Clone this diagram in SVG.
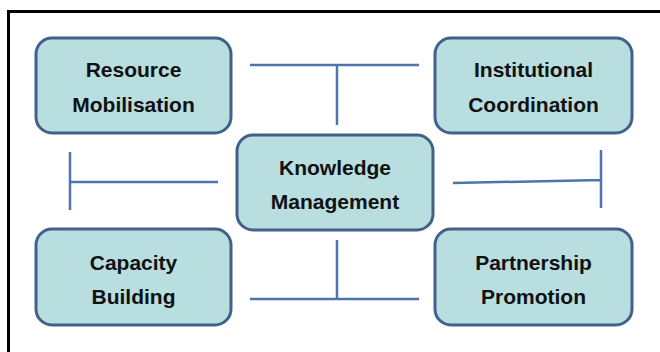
<svg xmlns="http://www.w3.org/2000/svg" width="660" height="352" viewBox="0 0 660 352">
<style>
.box{fill:#b8dedf;stroke:#41608a;stroke-width:3}
.lbl{font-family:"Liberation Sans",Arial,sans-serif;font-weight:bold;font-size:21px;fill:#111111;text-anchor:middle}
.con{stroke:#4e74ad;stroke-width:2.5;fill:none}
</style>
<rect x="0" y="0" width="660" height="352" fill="#ffffff"/>
<path d="M8.5 352 V11.5 H660" fill="none" stroke="#000" stroke-width="3"/>
<g id="connectors">
<path class="con" d="M250 65 H419 M337 65 V125"/>
<path class="con" d="M70 152 V210 M70 182 H218"/>
<path class="con" d="M453 183 L601 180 M601 150 V208"/>
<path class="con" d="M250 299 H419 M337 240 V299"/>
</g>
<g id="resource-mobilisation">
<rect class="box" x="36" y="38" width="195" height="95" rx="16"/>
<text class="lbl" x="133.5" y="77">Resource</text>
<text class="lbl" x="133.5" y="112">Mobilisation</text>
</g>
<g id="institutional-coordination">
<rect class="box" x="435" y="38" width="197" height="95" rx="16"/>
<text class="lbl" x="533.5" y="77">Institutional</text>
<text class="lbl" x="533.5" y="112">Coordination</text>
</g>
<g id="knowledge-management">
<rect class="box" x="237" y="135" width="196" height="95" rx="16"/>
<text class="lbl" x="335" y="175">Knowledge</text>
<text class="lbl" x="335" y="209">Management</text>
</g>
<g id="capacity-building">
<rect class="box" x="36" y="229" width="195" height="96" rx="16"/>
<text class="lbl" x="133.5" y="270">Capacity</text>
<text class="lbl" x="133.5" y="304">Building</text>
</g>
<g id="partnership-promotion">
<rect class="box" x="435" y="229" width="197" height="96" rx="16"/>
<text class="lbl" x="533.5" y="270">Partnership</text>
<text class="lbl" x="533.5" y="304">Promotion</text>
</g>
</svg>
